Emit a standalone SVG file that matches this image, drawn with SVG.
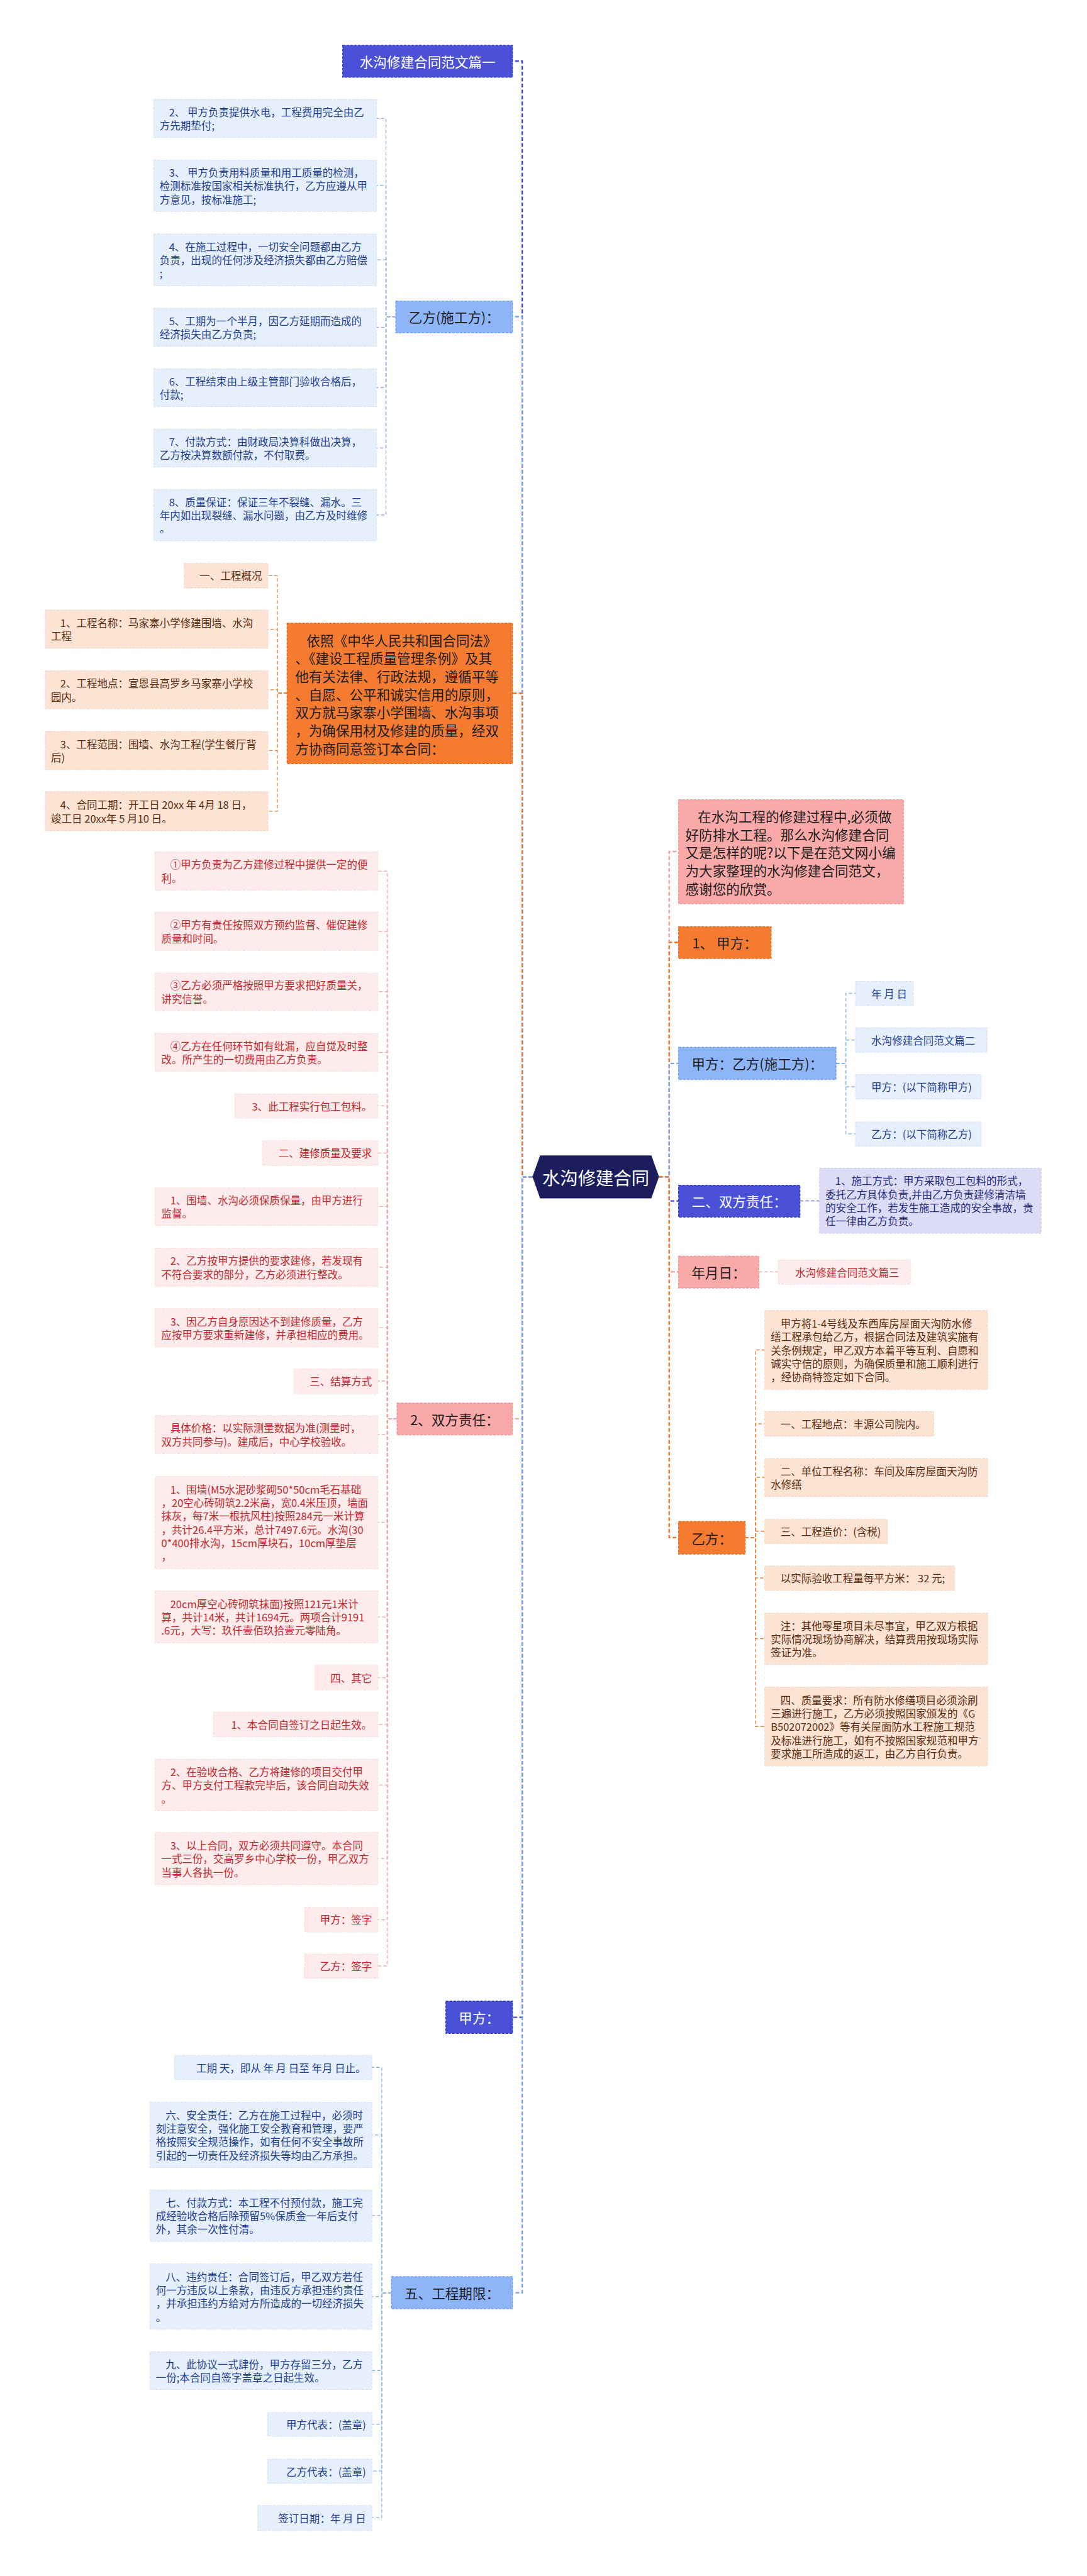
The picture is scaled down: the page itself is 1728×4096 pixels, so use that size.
<svg xmlns="http://www.w3.org/2000/svg" width="1728" height="4096" viewBox="0 0 1728 4096">
<style>
text, tspan { font-family: "Noto Sans CJK SC", "Noto Sans", sans-serif; dominant-baseline: central; }
.it { font-size: 24.5px; }
.l1 { font-size: 32px; fill: #1e1e1e; }
.wt { fill: #ffffff; }
.rt { font-size: 42px; fill: #ffffff; }
.mid { text-anchor: middle; }
.end { text-anchor: end; }
rect.n { stroke-width: 2; stroke-dasharray: 6 3; }
.ni { fill: #4a50d8; stroke: #353ab8; }
.nb { fill: #8db5f8; stroke: #74a0ea; }
.no { fill: #f47b30; stroke: #dc6a22; }
.ns { fill: #f9a9a8; stroke: #ec9494; }
rect.i { stroke-width: 1.5; stroke-dasharray: 6 3; }
.ib { fill: #e6effc; stroke: #d3e0f7; }
.ip { fill: #fde3d4; stroke: #f7d2bf; }
.ir { fill: #fdeceb; stroke: #f8dcdb; }
.il { fill: #dcdcf7; stroke: #c9c9f0; }
.tb { fill: #1f3f94; }
.tp { fill: #5b2c0e; }
.tr { fill: #c3272b; }
.tl { fill: #262c80; }
.k { fill: none; stroke-width: 3.5; stroke-dasharray: 9 5; }
.k2 { fill: none; stroke-width: 2; stroke-dasharray: 8 5; }
.ci { stroke: #3f45d0; }
.cb { stroke: #7aa4ec; }
.co { stroke: #f07a2e; }
.cs { stroke: #f3a2a2; }
.cb2 { stroke: #8aaee6; }
.co2 { stroke: #e8803c; }
.cs2 { stroke: #efa2a2; }
</style>
<g transform="scale(0.675)">
<g id="connectors">
  <!-- left main -->
  <path class="k ci" d="M1254,2772 H1230 V144 H1207"/>
  <path class="k cb" d="M1254,2772 H1230 V746 H1207"/>
  <path class="k co" d="M1254,2772 H1230 V1633 H1207"/>
  <path class="k cs" d="M1254,2772 H1230 V3342 H1207"/>
  <path class="k ci" d="M1254,2772 H1230 V4752 H1207"/>
  <path class="k cb" d="M1254,2772 H1230 V5401 H1207"/>
  <!-- right main -->
  <path class="k cs" d="M1552,2772 H1576 V2006 H1598"/>
  <path class="k co" d="M1552,2772 H1576 V2220 H1598"/>
  <path class="k cb" d="M1552,2772 H1576 V2505 H1598"/>
  <path class="k ci" d="M1552,2772 H1576 V2829 H1598"/>
  <path class="k cs" d="M1552,2772 H1576 V2996 H1598"/>
  <path class="k co" d="M1552,2772 H1576 V3622 H1598"/>
  <!-- 乙方(施工方) children -->
  <path class="k2 cb2" d="M932,746 H909 V279 H887"/>
  <path class="k2 cb2" d="M932,746 H909 V437 H887"/>
  <path class="k2 cb2" d="M932,746 H909 V612 H887"/>
  <path class="k2 cb2" d="M932,746 H909 V771 H887"/>
  <path class="k2 cb2" d="M932,746 H909 V913 H887"/>
  <path class="k2 cb2" d="M932,746 H909 V1055 H887"/>
  <path class="k2 cb2" d="M932,746 H909 V1213 H887"/>
  <!-- 依照 children -->
  <path class="k2 co2" d="M676,1633 H653 V1356 H631"/>
  <path class="k2 co2" d="M676,1633 H653 V1482 H631"/>
  <path class="k2 co2" d="M676,1633 H653 V1625 H631"/>
  <path class="k2 co2" d="M676,1633 H653 V1768 H631"/>
  <path class="k2 co2" d="M676,1633 H653 V1911 H631"/>
  <!-- 2、双方责任 children -->
  <path class="k2 cs2" d="M935,3342 H912 V2052 H890"/>
  <path class="k2 cs2" d="M935,3342 H912 V2194 H890"/>
  <path class="k2 cs2" d="M935,3342 H912 V2336 H890"/>
  <path class="k2 cs2" d="M935,3342 H912 V2479 H890"/>
  <path class="k2 cs2" d="M935,3342 H912 V2605 H890"/>
  <path class="k2 cs2" d="M935,3342 H912 V2716 H890"/>
  <path class="k2 cs2" d="M935,3342 H912 V2842 H890"/>
  <path class="k2 cs2" d="M935,3342 H912 V2985 H890"/>
  <path class="k2 cs2" d="M935,3342 H912 V3128 H890"/>
  <path class="k2 cs2" d="M935,3342 H912 V3253 H890"/>
  <path class="k2 cs2" d="M935,3342 H912 V3379 H890"/>
  <path class="k2 cs2" d="M935,3342 H912 V3586 H890"/>
  <path class="k2 cs2" d="M935,3342 H912 V3809 H890"/>
  <path class="k2 cs2" d="M935,3342 H912 V3952 H890"/>
  <path class="k2 cs2" d="M935,3342 H912 V4062 H890"/>
  <path class="k2 cs2" d="M935,3342 H912 V4205 H890"/>
  <path class="k2 cs2" d="M935,3342 H912 V4378 H890"/>
  <path class="k2 cs2" d="M935,3342 H912 V4522 H890"/>
  <path class="k2 cs2" d="M935,3342 H912 V4631 H890"/>
  <!-- 五、工程期限 children -->
  <path class="k2 cb2" d="M922,5401 H899 V4870 H876"/>
  <path class="k2 cb2" d="M922,5401 H899 V5029 H876"/>
  <path class="k2 cb2" d="M922,5401 H899 V5219 H876"/>
  <path class="k2 cb2" d="M922,5401 H899 V5410 H876"/>
  <path class="k2 cb2" d="M922,5401 H899 V5584 H876"/>
  <path class="k2 cb2" d="M922,5401 H899 V5711 H876"/>
  <path class="k2 cb2" d="M922,5401 H899 V5821 H876"/>
  <path class="k2 cb2" d="M922,5401 H899 V5931 H876"/>
  <!-- 甲方：乙方(施工方) children -->
  <path class="k2 cb2" d="M1969,2505 H1992 V2340 H2015"/>
  <path class="k2 cb2" d="M1969,2505 H1992 V2450 H2015"/>
  <path class="k2 cb2" d="M1969,2505 H1992 V2560 H2015"/>
  <path class="k2 cb2" d="M1969,2505 H1992 V2671 H2015"/>
  <!-- 二、双方责任 child -->
  <path class="k2 ci" d="M1884,2829 H1930"/>
  <!-- 年月日 child -->
  <path class="k2 cs2" d="M1787,2996 H1833"/>
  <!-- 乙方 children -->
  <path class="k2 co2" d="M1755,3622 H1779 V3180 H1801"/>
  <path class="k2 co2" d="M1755,3622 H1779 V3354 H1801"/>
  <path class="k2 co2" d="M1755,3622 H1779 V3480 H1801"/>
  <path class="k2 co2" d="M1755,3622 H1779 V3607 H1801"/>
  <path class="k2 co2" d="M1755,3622 H1779 V3717 H1801"/>
  <path class="k2 co2" d="M1755,3622 H1779 V3860 H1801"/>
  <path class="k2 co2" d="M1755,3622 H1779 V4067 H1801"/>
</g>

<g id="root">
  <polygon points="1254,2772 1272,2722 1534,2722 1552,2772 1534,2823 1272,2823" fill="#1b1d5c"/>
  <text class="rt mid" x="1403" y="2772">水沟修建合同</text>
</g>

<!-- left level 1 -->
<g id="n-title"><rect class="n ni" x="807" y="107" width="400" height="75"/><text class="l1 wt mid" x="1007" y="144.5">水沟修建合同范文篇一</text></g>
<g id="n-yifang"><rect class="n nb" x="932" y="709" width="275" height="75"/><text class="l1 mid" x="1069.5" y="746.5">乙方(施工方)：</text></g>
<g id="n-yizhao"><rect class="n no" x="676" y="1468" width="531" height="331"/>
<text class="l1" fill="#2a1d14"><tspan x="722" y="1506">依照《中华人民共和国合同法》</tspan><tspan x="695" y="1548.5">、《建设工程质量管理条例》及其</tspan><tspan x="695" y="1591">他有关法律、行政法规，遵循平等</tspan><tspan x="695" y="1633.5">、自愿、公平和诚实信用的原则，</tspan><tspan x="695" y="1676">双方就马家寨小学围墙、水沟事项</tspan><tspan x="695" y="1718.5">，为确保用材及修建的质量，经双</tspan><tspan x="695" y="1761">方协商同意签订本合同：</tspan></text></g>
<g id="n-shuangfang"><rect class="n ns" x="935" y="3305" width="272" height="75"/><text class="l1 mid" x="1071" y="3342.5">2、双方责任：</text></g>
<g id="n-jiafang"><rect class="n ni" x="1050" y="4714" width="157" height="76"/><text class="l1 wt mid" x="1128.5" y="4752">甲方：</text></g>
<g id="n-qixian"><rect class="n nb" x="922" y="5363" width="285" height="76"/><text class="l1 mid" x="1064.5" y="5401">五、工程期限：</text></g>

<!-- 乙方(施工方) children -->
<g id="a2"><rect class="i ib" x="362" y="234" width="525" height="90"/><text class="it tb"><tspan x="398" y="263.2">2、 甲方负责提供水电，工程费用完全由乙</tspan><tspan x="376" y="294.8">方先期垫付;</tspan></text></g>
<g id="a3"><rect class="i ib" x="362" y="377" width="525" height="121"/><text class="it tb"><tspan x="398" y="405.9">3、 甲方负责用料质量和用工质量的检测，</tspan><tspan x="376" y="437.5">检测标准按国家相关标准执行，乙方应遵从甲</tspan><tspan x="376" y="469.1">方意见，按标准施工;</tspan></text></g>
<g id="a4"><rect class="i ib" x="362" y="551" width="525" height="122"/><text class="it tb"><tspan x="398" y="580.4">4、在施工过程中，一切安全问题都由乙方</tspan><tspan x="376" y="612">负责，出现的任何涉及经济损失都由乙方赔偿</tspan><tspan x="376" y="643.6">;</tspan></text></g>
<g id="a5"><rect class="i ib" x="362" y="726" width="525" height="90"/><text class="it tb"><tspan x="398" y="755.2">5、工期为一个半月，因乙方延期而造成的</tspan><tspan x="376" y="786.8">经济损失由乙方负责;</tspan></text></g>
<g id="a6"><rect class="i ib" x="362" y="869" width="525" height="89"/><text class="it tb"><tspan x="398" y="897.7">6、工程结束由上级主管部门验收合格后，</tspan><tspan x="376" y="929.3">付款;</tspan></text></g>
<g id="a7"><rect class="i ib" x="362" y="1011" width="525" height="89"/><text class="it tb"><tspan x="398" y="1039.7">7、付款方式：由财政局决算科做出决算，</tspan><tspan x="376" y="1071.3">乙方按决算数额付款，不付取费。</tspan></text></g>
<g id="a8"><rect class="i ib" x="362" y="1153" width="525" height="121"/><text class="it tb"><tspan x="398" y="1181.9">8、质量保证：保证三年不裂缝、漏水。三</tspan><tspan x="376" y="1213.5">年内如出现裂缝、漏水问题，由乙方及时维修</tspan><tspan x="376" y="1245.1">。</tspan></text></g>

<!-- 依照 children -->
<g id="b0"><rect class="i ip" x="434" y="1327" width="197" height="58"/><text class="it tp end" x="617" y="1356">一、工程概况</text></g>
<g id="b1"><rect class="i ip" x="107" y="1437" width="524" height="90"/><text class="it tp"><tspan x="142" y="1466.2">1、工程名称：马家寨小学修建围墙、水沟</tspan><tspan x="120" y="1497.8">工程</tspan></text></g>
<g id="b2"><rect class="i ip" x="107" y="1580" width="524" height="90"/><text class="it tp"><tspan x="142" y="1609.2">2、工程地点：宣恩县高罗乡马家寨小学校</tspan><tspan x="120" y="1640.8">园内。</tspan></text></g>
<g id="b3"><rect class="i ip" x="107" y="1723" width="524" height="90"/><text class="it tp"><tspan x="142" y="1752.2">3、工程范围：围墙、水沟工程(学生餐厅背</tspan><tspan x="120" y="1783.8">后)</tspan></text></g>
<g id="b4"><rect class="i ip" x="107" y="1865" width="524" height="92"/><text class="it tp"><tspan x="142" y="1895.2">4、合同工期：开工日 20xx 年 4月 18 日，</tspan><tspan x="120" y="1926.8">竣工日 20xx年 5 月10 日。</tspan></text></g>

<!-- 2、双方责任 children -->
<g id="c1"><rect class="i ir" x="365" y="2007" width="525" height="90"/><text class="it tr"><tspan x="401" y="2036.2">①甲方负责为乙方建修过程中提供一定的便</tspan><tspan x="380" y="2067.8">利。</tspan></text></g>
<g id="c2"><rect class="i ir" x="365" y="2149" width="525" height="90"/><text class="it tr"><tspan x="401" y="2178.2">②甲方有责任按照双方预约监督、催促建修</tspan><tspan x="380" y="2209.8">质量和时间。</tspan></text></g>
<g id="c3"><rect class="i ir" x="365" y="2292" width="525" height="89"/><text class="it tr"><tspan x="401" y="2320.7">③乙方必须严格按照甲方要求把好质量关，</tspan><tspan x="380" y="2352.3">讲究信誉。</tspan></text></g>
<g id="c4"><rect class="i ir" x="365" y="2434" width="525" height="90"/><text class="it tr"><tspan x="401" y="2463.2">④乙方在任何环节如有纰漏，应自觉及时整</tspan><tspan x="380" y="2494.8">改。所产生的一切费用由乙方负责。</tspan></text></g>
<g id="c5"><rect class="i ir" x="553" y="2577" width="337" height="57"/><text class="it tr end" x="876" y="2605.5">3、此工程实行包工包料。</text></g>
<g id="c6"><rect class="i ir" x="618" y="2687" width="272" height="58"/><text class="it tr end" x="876" y="2716">二、建修质量及要求</text></g>
<g id="c7"><rect class="i ir" x="365" y="2798" width="525" height="89"/><text class="it tr"><tspan x="401" y="2826.7">1、围墙、水沟必须保质保量，由甲方进行</tspan><tspan x="380" y="2858.3">监督。</tspan></text></g>
<g id="c8"><rect class="i ir" x="365" y="2940" width="525" height="90"/><text class="it tr"><tspan x="401" y="2969.2">2、乙方按甲方提供的要求建修，若发现有</tspan><tspan x="380" y="3000.8">不符合要求的部分，乙方必须进行整改。</tspan></text></g>
<g id="c9"><rect class="i ir" x="365" y="3083" width="525" height="90"/><text class="it tr"><tspan x="401" y="3112.2">3、因乙方自身原因达不到建修质量，乙方</tspan><tspan x="380" y="3143.8">应按甲方要求重新建修，并承担相应的费用。</tspan></text></g>
<g id="c10"><rect class="i ir" x="692" y="3224" width="198" height="59"/><text class="it tr end" x="876" y="3253.5">三、结算方式</text></g>
<g id="c11"><rect class="i ir" x="365" y="3335" width="525" height="89"/><text class="it tr"><tspan x="401" y="3363.7">具体价格：以实际测量数据为准(测量时，</tspan><tspan x="380" y="3395.3">双方共同参与)。建成后，中心学校验收。</tspan></text></g>
<g id="c12"><rect class="i ir" x="365" y="3478" width="525" height="217"/><text class="it tr"><tspan x="401" y="3507.5">1、围墙(M5水泥砂浆砌50*50cm毛石基础</tspan><tspan x="380" y="3539.1">，20空心砖砌筑2.2米高，宽0.4米压顶，墙面</tspan><tspan x="380" y="3570.7">抹灰，每7米一根抗风柱)按照284元一米计算</tspan><tspan x="380" y="3602.3">，共计26.4平方米，总计7497.6元。水沟(30</tspan><tspan x="380" y="3633.9">0*400排水沟，15cm厚块石，10cm厚垫层</tspan><tspan x="380" y="3665.5">，</tspan></text></g>
<g id="c13"><rect class="i ir" x="365" y="3748" width="525" height="122"/><text class="it tr"><tspan x="401" y="3777.4">20cm厚空心砖砌筑抹面)按照121元1米计</tspan><tspan x="380" y="3809">算，共计14米，共计1694元。两项合计9191</tspan><tspan x="380" y="3840.6">.6元，大写：玖仟壹佰玖拾壹元零陆角。</tspan></text></g>
<g id="c14"><rect class="i ir" x="742" y="3923" width="148" height="58"/><text class="it tr end" x="876" y="3952">四、其它</text></g>
<g id="c15"><rect class="i ir" x="503" y="4033" width="387" height="58"/><text class="it tr end" x="876" y="4062">1、本合同自签订之日起生效。</text></g>
<g id="c16"><rect class="i ir" x="365" y="4144" width="525" height="122"/><text class="it tr"><tspan x="401" y="4173.4">2、在验收合格、乙方将建修的项目交付甲</tspan><tspan x="380" y="4205">方、甲方支付工程款完毕后，该合同自动失效</tspan><tspan x="380" y="4236.6">。</tspan></text></g>
<g id="c17"><rect class="i ir" x="365" y="4317" width="525" height="123"/><text class="it tr"><tspan x="401" y="4346.9">3、以上合同，双方必须共同遵守。本合同</tspan><tspan x="380" y="4378.5">一式三份，交高罗乡中心学校一份，甲乙双方</tspan><tspan x="380" y="4410.1">当事人各执一份。</tspan></text></g>
<g id="c18"><rect class="i ir" x="717" y="4493" width="173" height="58"/><text class="it tr end" x="876" y="4522">甲方：签字</text></g>
<g id="c19"><rect class="i ir" x="717" y="4603" width="173" height="57"/><text class="it tr end" x="876" y="4631.5">乙方：签字</text></g>

<!-- 五、工程期限 children -->
<g id="d1"><rect class="i ib" x="411" y="4842" width="465" height="57"/><text class="it tb end" x="862" y="4870.5">工期 天，即从 年 月 日至 年月 日止。</text></g>
<g id="d2"><rect class="i ib" x="353" y="4952" width="523" height="154"/><text class="it tb"><tspan x="390" y="4981.6">六、安全责任：乙方在施工过程中，必须时</tspan><tspan x="367" y="5013.2">刻注意安全，强化施工安全教育和管理，要严</tspan><tspan x="367" y="5044.8">格按照安全规范操作，如有任何不安全事故所</tspan><tspan x="367" y="5076.4">引起的一切责任及经济损失等均由乙方承担。</tspan></text></g>
<g id="d3"><rect class="i ib" x="353" y="5159" width="523" height="121"/><text class="it tb"><tspan x="390" y="5187.9">七、付款方式：本工程不付预付款，施工完</tspan><tspan x="367" y="5219.5">成经验收合格后除预留5%保质金一年后支付</tspan><tspan x="367" y="5251.1">外，其余一次性付清。</tspan></text></g>
<g id="d4"><rect class="i ib" x="353" y="5333" width="523" height="154"/><text class="it tb"><tspan x="390" y="5362.6">八、违约责任：合同签订后，甲乙双方若任</tspan><tspan x="367" y="5394.2">何一方违反以上条款，由违反方承担违约责任</tspan><tspan x="367" y="5425.8">，并承担违约方给对方所造成的一切经济损失</tspan><tspan x="367" y="5457.4">。</tspan></text></g>
<g id="d5"><rect class="i ib" x="353" y="5540" width="523" height="89"/><text class="it tb"><tspan x="390" y="5568.7">九、此协议一式肆份，甲方存留三分，乙方</tspan><tspan x="367" y="5600.3">一份;本合同自签字盖章之日起生效。</tspan></text></g>
<g id="d6"><rect class="i ib" x="630" y="5683" width="246" height="56"/><text class="it tb end" x="862" y="5711">甲方代表：(盖章)</text></g>
<g id="d7"><rect class="i ib" x="630" y="5793" width="246" height="57"/><text class="it tb end" x="862" y="5821.5">乙方代表：(盖章)</text></g>
<g id="d8"><rect class="i ib" x="607" y="5902" width="269" height="59"/><text class="it tb end" x="862" y="5931.5">签订日期：年 月 日</text></g>

<!-- right level 1 -->
<g id="n-intro"><rect class="n ns" x="1598" y="1884" width="530" height="245"/>
<text class="l1"><tspan x="1643" y="1921.5">在水沟工程的修建过程中,必须做</tspan><tspan x="1614" y="1964">好防排水工程。那么水沟修建合同</tspan><tspan x="1614" y="2006.5">又是怎样的呢?以下是在范文网小编</tspan><tspan x="1614" y="2049">为大家整理的水沟修建合同范文，</tspan><tspan x="1614" y="2091.5">感谢您的欣赏。</tspan></text></g>
<g id="n-jia1"><rect class="n no" x="1598" y="2183" width="218" height="75"/><text class="l1 mid" x="1707" y="2220.5">1、 甲方：</text></g>
<g id="n-jiayi"><rect class="n nb" x="1598" y="2467" width="371" height="76"/><text class="l1 mid" x="1783.5" y="2505">甲方：乙方(施工方)：</text></g>
<g id="n-shuang2"><rect class="n ni" x="1598" y="2792" width="286" height="75"/><text class="l1 wt mid" x="1741" y="2829.5">二、双方责任：</text></g>
<g id="n-nyr"><rect class="n ns" x="1598" y="2959" width="189" height="75"/><text class="l1 mid" x="1692.5" y="2996.5">年月日：</text></g>
<g id="n-yi"><rect class="n no" x="1598" y="3584" width="157" height="77"/><text class="l1 mid" x="1676.5" y="3622.5">乙方：</text></g>

<!-- right children -->
<g id="e1"><rect class="i ib" x="2015" y="2312" width="136" height="57"/><text class="it tb" x="2052" y="2340.5">年 月 日</text></g>
<g id="e2"><rect class="i ib" x="2015" y="2421" width="310" height="58"/><text class="it tb" x="2052" y="2450">水沟修建合同范文篇二</text></g>
<g id="e3"><rect class="i ib" x="2015" y="2531" width="296" height="58"/><text class="it tb" x="2052" y="2560">甲方：(以下简称甲方)</text></g>
<g id="e4"><rect class="i ib" x="2015" y="2643" width="296" height="57"/><text class="it tb" x="2052" y="2671.5">乙方：(以下简称乙方)</text></g>
<g id="f1"><rect class="i il" x="1930" y="2752" width="522" height="153"/><text class="it tl"><tspan x="1967" y="2781.1">1、施工方式：甲方采取包工包料的形式，</tspan><tspan x="1944" y="2812.7">委托乙方具体负责,并由乙方负责建修清洁墙</tspan><tspan x="1944" y="2844.3">的安全工作，若发生施工造成的安全事故，责</tspan><tspan x="1944" y="2875.9">任一律由乙方负责。</tspan></text></g>
<g id="g1"><rect class="i ir" x="1833" y="2968" width="311" height="57"/><text class="it tr" x="1873" y="2996.5">水沟修建合同范文篇三</text></g>
<g id="h1"><rect class="i ip" x="1801" y="3087" width="525" height="186"/><text class="it tp"><tspan x="1838" y="3116.8">甲方将1-4号线及东西库房屋面天沟防水修</tspan><tspan x="1815" y="3148.4">缮工程承包给乙方，根据合同法及建筑实施有</tspan><tspan x="1815" y="3180">关条例规定，甲乙双方本着平等互利、自愿和</tspan><tspan x="1815" y="3211.6">诚实守信的原则，为确保质量和施工顺利进行</tspan><tspan x="1815" y="3243.2">，经协商特签定如下合同。</tspan></text></g>
<g id="h2"><rect class="i ip" x="1801" y="3325" width="398" height="58"/><text class="it tp" x="1838" y="3354">一、工程地点：丰源公司院内。</text></g>
<g id="h3"><rect class="i ip" x="1801" y="3436" width="525" height="89"/><text class="it tp"><tspan x="1838" y="3464.7">二、单位工程名称：车间及库房屋面天沟防</tspan><tspan x="1815" y="3496.3">水修缮</tspan></text></g>
<g id="h4"><rect class="i ip" x="1801" y="3579" width="289" height="57"/><text class="it tp" x="1838" y="3607.5">三、工程造价：(含税)</text></g>
<g id="h5"><rect class="i ip" x="1801" y="3689" width="447" height="57"/><text class="it tp" x="1838" y="3717.5">以实际验收工程量每平方米： 32 元;</text></g>
<g id="h6"><rect class="i ip" x="1801" y="3800" width="525" height="121"/><text class="it tp"><tspan x="1838" y="3828.9">注：其他零星项目未尽事宜，甲乙双方根据</tspan><tspan x="1815" y="3860.5">实际情况现场协商解决，结算费用按现场实际</tspan><tspan x="1815" y="3892.1">签证为准。</tspan></text></g>
<g id="h7"><rect class="i ip" x="1801" y="3974" width="525" height="186"/><text class="it tp"><tspan x="1838" y="4003.8">四、质量要求：所有防水修缮项目必须涂刷</tspan><tspan x="1815" y="4035.4">三遍进行施工，乙方必须按照国家颁发的《G</tspan><tspan x="1815" y="4067">B502072002》等有关屋面防水工程施工规范</tspan><tspan x="1815" y="4098.6">及标准进行施工，如有不按照国家规范和甲方</tspan><tspan x="1815" y="4130.2">要求施工所造成的返工，由乙方自行负责。</tspan></text></g>
</g>
</svg>
